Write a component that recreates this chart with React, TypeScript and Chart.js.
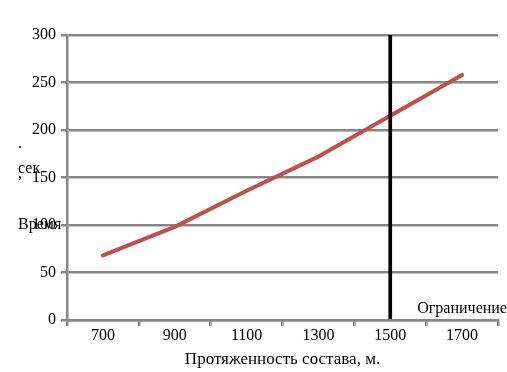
import React, { useEffect, useRef } from "react";
import { Chart, registerables } from "chart.js";

Chart.register(...registerables);

const categories = ["700", "900", "1100", "1300", "1500", "1700"];
const timeValues = [68, 98, 136, 172, 215, 258];
const limitValues = [null, null, null, null, 300, null];
const limitLabel = "Ограничение";
const xTitle = "Протяженность состава, м.";
const yMin = 0;
const yMax = 300;
const yStep = 50;
// garbled vertical axis title fragments as rendered in the source
const yTitleParts: [string, number, number][] = [
  ["Время", 18, 229],
  ["сек", 18, 173],
  [",", 18, 178],
  [".", 18, 148],
];

const FONT = "'Liberation Serif', 'Times New Roman', serif";
const GRID = "#878787";

const labelsPlugin = {
  id: "labelsPlugin",
  afterDraw(chart: any) {
    const ctx = chart.ctx;
    ctx.save();
    ctx.fillStyle = "#000";
    ctx.font = `16px ${FONT}`;
    const meta = chart.getDatasetMeta(1);
    limitValues.forEach((v, i) => {
      if (v == null) return;
      const el = meta.data[i];
      if (!el) return;
      ctx.textAlign = "left";
      ctx.textBaseline = "middle";
      ctx.fillText(limitLabel, el.x + 27, chart.chartArea.bottom - 11);
    });
    ctx.textBaseline = "alphabetic";
    ctx.textAlign = "left";
    ctx.font = `16px ${FONT}`;
    yTitleParts.forEach(([t, x, y]) => ctx.fillText(t, x, y));
    ctx.restore();
  },
};

export default function App() {
  const ref = useRef<HTMLCanvasElement>(null);
  useEffect(() => {
    if (!ref.current) return;
    const chart = new Chart(ref.current, {
      data: {
        labels: categories,
        datasets: [
          {
            type: "line",
            label: "Время",
            data: timeValues,
            borderColor: "#C0504D",
            backgroundColor: "#C0504D",
            borderWidth: 4,
            borderCapStyle: "round",
            borderJoinStyle: "round",
            pointRadius: 0,
            tension: 0,
            order: 1,
          },
          {
            type: "bar",
            label: limitLabel,
            data: limitValues as any,
            backgroundColor: "#000000",
            barThickness: 3,
            grouped: false,
            order: 0,
          },
        ],
      } as any,
      options: {
        responsive: false,
        animation: false,
        events: [],
        layout: { padding: { top: 35, right: 9, left: 0, bottom: 0 } },
        plugins: { legend: { display: false }, tooltip: { enabled: false } },
        scales: {
          x: {
            type: "category",
            offset: true,
            afterFit: (s: any) => {
              s.height = 52;
            },
            grid: {
              display: true,
              drawOnChartArea: false,
              drawTicks: true,
              tickLength: 6,
              color: GRID,
              lineWidth: 2.5,
              offset: true,
            },
            border: { display: true, color: GRID, width: 2.5 },
            ticks: {
              color: "#000",
              font: { family: FONT, size: 16 },
              padding: 0,
              maxRotation: 0,
              autoSkip: false,
            },
            title: {
              display: true,
              text: xTitle,
              color: "#000",
              font: { family: FONT, size: 17 },
              padding: { top: 0, bottom: 2 },
            },
          },
          y: {
            min: yMin,
            max: yMax,
            afterFit: (s: any) => {
              s.width = 67;
            },
            ticks: {
              stepSize: yStep,
              color: "#000",
              font: { family: FONT, size: 16 },
              padding: 5,
            },
            grid: {
              color: GRID,
              lineWidth: 2.5,
              tickLength: 6,
              drawTicks: true,
            },
            border: { display: true, color: GRID, width: 2.5 },
          },
        },
      },
      plugins: [labelsPlugin],
    } as any);
    return () => chart.destroy();
  }, []);
  return (
    <div style={{ position: "fixed", left: 0, top: 0, width: 507, height: 372, background: "#fff" }}>
      <canvas ref={ref} width={507} height={372} style={{ display: "block" }} />
    </div>
  );
}
